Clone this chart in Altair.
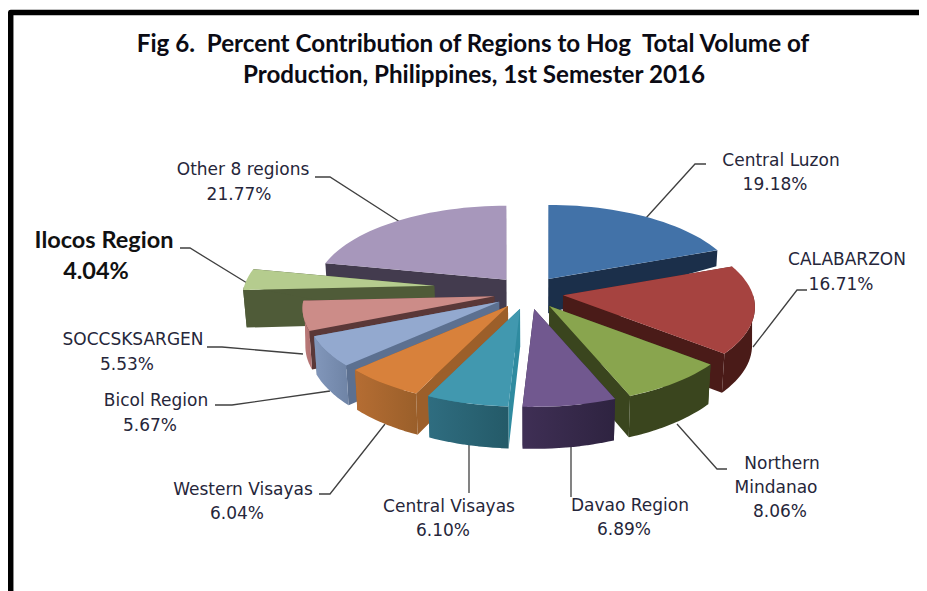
import math
import altair as alt
import numpy as np
import pandas as pd

# ---- chart values
REGIONS = ["Central Luzon", "CALABARZON", "Northern Mindanao", "Davao Region", "Central Visayas",
           "Western Visayas", "Bicol Region", "SOCCSKSARGEN", "Ilocos Region", "Other 8 regions"]
SHARES = [19.18, 16.71, 8.06, 6.89, 6.10, 6.04, 5.67, 5.53, 4.04, 21.77]
TITLE_LINES = ["Fig 6.\u00a0 Percent Contribution of Regions to Hog\u00a0 Total Volume of",
               "Production, Philippines, 1st Semester 2016"]

# ---- styles
TOP = ["#4272A8", "#A64340", "#89A54E", "#71588F", "#4198AF", "#D8813B", "#93A9CF", "#CC8C88", "#B5CC8E", "#A797BB"]
WALL_A = ["#1B2F4A", "#4A1B18", "#3A451E", "#3F2F55", "#2F6D80", "#B56D33", "#8297BB", "#BE7E7C", "#4F5B38", "#433B4E"]
WALL_B = ["#1B2F4A", "#4A1B18", "#3A451E", "#2E2340", "#245A68", "#9A5F2A", "#6F84A6", "#B07070", "#4F5B38", "#433B4E"]
SIDE = ["#1B2F4A", "#4A1B18", "#3A451E", "#2E2340", "#2F8BA0", "#9C5F2A", "#5C7090", "#5A3838", "#4F5B38", "#433B4E"]
DRAW_ORDER = [9, 0, 8, 1, 7, 2, 6, 5, 3, 4]

# ---- projection of the tilted pie
CX, CY = 528.5, 292.6
R, A, P = 190.0, 84.3, 0.139
EXPLODE_X, EXPLODE_Y = 35.0, 16.6
EXPLODE = [1, 1, 1, 1, 1, 1, 1, 1, 2.7, 1]
LIFT = [0, 0, 0, 0, 0, 0, 0, 0, -3.5, 0]
DEPTH_Y = [250, 266, 280, 293, 350, 407]
DEPTH_V = [16, 14, 36, 38, 39, 42]


def face_point(ax, ay, t):
    rad = math.radians(t)
    v = -math.cos(rad)
    s = 1 / (1 - P * v)
    return ax + R * math.sin(rad) * s, ay + A * v * s


def drop(p):
    d = float(np.interp(p[1], DEPTH_Y, DEPTH_V))
    return CX + (p[0] - CX) * (1 - 0.00033 * d), p[1] + d


def band(points):
    """Outline that is monotone in x, as x / y / y2 rows."""
    xs = sorted({round(p[0], 2) for p in points})
    n = len(points)
    rows = []
    for x in xs:
        hits = []
        for i in range(n):
            x1, y1 = points[i]
            x2, y2 = points[(i + 1) % n]
            x1, x2 = round(x1, 2), round(x2, 2)
            if min(x1, x2) <= x <= max(x1, x2):
                if x1 == x2:
                    hits += [y1, y2]
                else:
                    hits.append(y1 + (y2 - y1) * (x - x1) / (x2 - x1))
        rows.append({"x": x, "y": min(hits), "y2": max(hits)})
    return pd.DataFrame(rows)


X = alt.X("x:Q", scale=alt.Scale(domain=[8, 919], nice=False, zero=False), axis=None)
Y = alt.Y("y:Q", scale=alt.Scale(domain=[8, 591], nice=False, zero=False, reverse=True), axis=None)


def area_layer(points, paint):
    return alt.Chart(band(points)).mark_area(color=paint, opacity=1).encode(X, Y, y2="y2:Q")


slice_layers = []
total = sum(SHARES)
start = [sum(SHARES[:i]) / total * 360 for i in range(len(SHARES))]
for i in DRAW_ORDER:
    t0 = start[i]
    t1 = t0 + SHARES[i] / total * 360
    m = math.radians((t0 + t1) / 2)
    ax = CX + EXPLODE[i] * EXPLODE_X * math.sin(m)
    ay = CY - EXPLODE[i] * EXPLODE_Y * math.cos(m) + LIFT[i]
    apex = (ax, ay)
    angles = list(np.linspace(t0, t1, max(3, int((t1 - t0) / 2.5) + 2)))
    arc = [face_point(ax, ay, t) for t in angles]
    # radial cut faces
    for end in (arc[0], arc[-1]):
        slice_layers.append(area_layer([apex, end, drop(end), drop(apex)], SIDE[i]))
    # outer wall: only the part that faces the viewer
    lo, hi = max(t0, 90.0), min(t1, 270.0)
    if hi > lo:
        wall = [face_point(ax, ay, t) for t in np.linspace(lo, hi, max(3, int((hi - lo) / 2) + 2))]
        outline = wall + [drop(p) for p in reversed(wall)]
        paint = alt.Gradient(
            gradient="linear", x1=0, x2=1, y1=0, y2=0,
            stops=[alt.GradientStop(color=WALL_A[i], offset=0), alt.GradientStop(color=WALL_B[i], offset=1)],
        )
        slice_layers.append(area_layer(outline, paint))
    # top face
    slice_layers.append(area_layer([apex] + arc, TOP[i]))

# ---- layout of labels, leaders and frame (page pixels)
LABEL_AT = {
    "Central Luzon": [(781, 161), (775, 185)],
    "CALABARZON": [(847, 260), (841, 285)],
    "Northern Mindanao": [(782, 464), (776, 488), (780, 512)],
    "Davao Region": [(630, 506), (624, 530)],
    "Central Visayas": [(449, 507), (443, 531)],
    "Western Visayas": [(243, 490), (237, 514)],
    "Bicol Region": [(156, 401), (150, 426)],
    "SOCCSKSARGEN": [(133, 340), (127, 365)],
    "Ilocos Region": [(104, 241), (96, 272)],
    "Other 8 regions": [(243, 170), (239, 195)],
}
LEADERS = {
    "Central Luzon": [(646, 218), (695, 164), (706, 164)],
    "CALABARZON": [(753, 347), (797, 290), (807, 290)],
    "Northern Mindanao": [(677, 424), (717, 469), (727, 469)],
    "Davao Region": [(571, 447), (571, 497)],
    "Central Visayas": [(469, 445), (469, 493)],
    "Western Visayas": [(385, 424), (330, 494), (319, 494)],
    "Bicol Region": [(330, 391), (232, 405), (215, 405)],
    "SOCCSKSARGEN": [(303, 354), (222, 347), (207, 347)],
    "Ilocos Region": [(247, 283), (190, 248), (180, 248)],
    "Other 8 regions": [(400, 222), (330, 177), (315, 177)],
}

text_rows = []
for region, share in zip(REGIONS, SHARES):
    bits = region.split(" ") if region == "Northern Mindanao" else [region]
    bits = bits + [f"{share:.2f}%"]
    for bit, (x, y) in zip(bits, LABEL_AT[region]):
        text_rows.append({"text": bit, "x": x, "y": y, "region": region})
texts = pd.DataFrame(text_rows)

leader_rows = []
for region, pts in LEADERS.items():
    for k, (x, y) in enumerate(pts):
        leader_rows.append({"region": region, "k": k, "x": x, "y": y})
leaders = pd.DataFrame(leader_rows)

titles = pd.DataFrame({"text": TITLE_LINES, "x": [473, 474], "y": [45, 76]})
frame = pd.DataFrame({"x": [10.7, 10.7, 919], "y": [591, 12.6, 12.6], "k": [0, 1, 2]})

frame_layer = alt.Chart(frame).mark_line(color="#000000", strokeWidth=5.5, strokeJoin="round").encode(X, Y, order="k:Q")
leader_layer = alt.Chart(leaders).mark_line(color="#404040", strokeWidth=1.3).encode(X, Y, detail="region:N", order="k:Q")
plain = texts[texts.region != "Ilocos Region"]
bold = texts[texts.region == "Ilocos Region"]
label_layer = alt.Chart(plain).mark_text(font="DejaVu Sans", fontSize=17, color="#26263a", baseline="middle").encode(X, Y, text="text:N")
bold_layer = alt.Chart(bold).mark_text(font="Lato", fontSize=23.5, fontWeight="bold", color="#111111", baseline="middle").encode(X, Y, text="text:N")
title_layer = alt.Chart(titles).mark_text(font="Lato", fontSize=24.2, fontWeight="bold", color="#0b0b14", baseline="middle").encode(X, Y, text="text:N")

chart = alt.layer(frame_layer, leader_layer, *slice_layers, label_layer, bold_layer, title_layer).properties(
    width=911, height=583, padding=0, autosize=alt.AutoSizeParams(type="none"), background="#ffffff"
).configure_view(stroke=None)

chart.save("out.html", embed_options={"renderer": "svg", "actions": False})
